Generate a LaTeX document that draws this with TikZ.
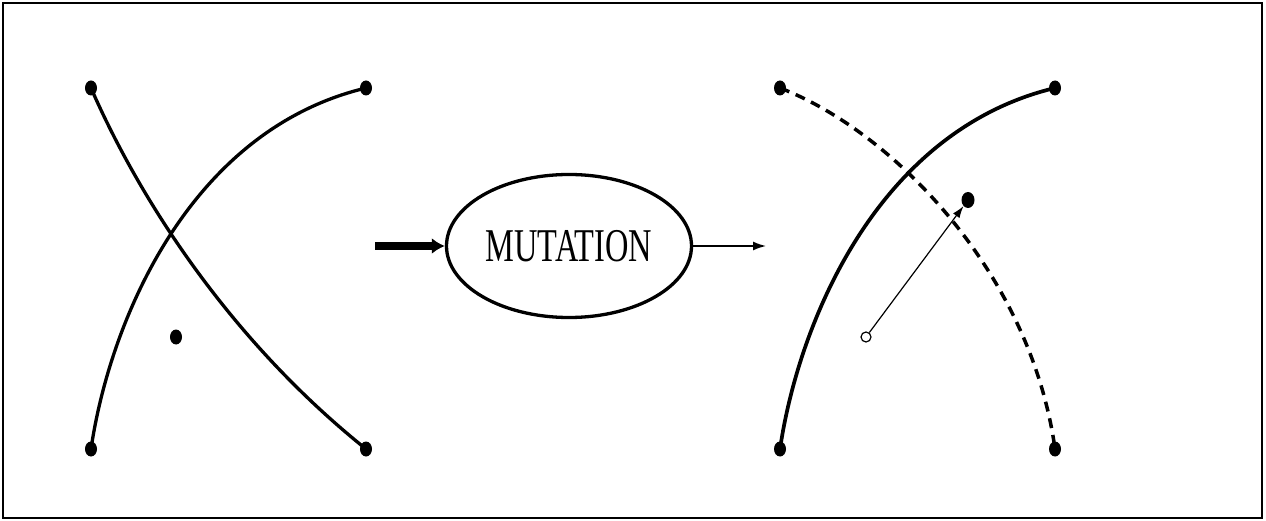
\documentclass[tikz,border=0pt]{standalone}
\usepackage{fontspec}
\setmainfont{Liberation Serif}
\usetikzlibrary{shapes.geometric,arrows.meta}
\tikzset{
  enddot/.style={ellipse,fill=black,inner sep=0pt,minimum width=12pt,minimum height=15pt},
  opendot/.style={circle,draw=black,line width=1.2pt,fill=white,inner sep=0pt,minimum size=10pt},
  curveline/.style={line width=3.3pt},
  dashline/.style={line width=3.5pt,dash pattern=on 10pt off 7pt},
  opbox/.style={ellipse,draw=black,line width=3.3pt,minimum width=245pt,minimum height=143pt,inner sep=0pt},
}
\begin{document}
\begin{tikzpicture}[x=1pt,y=-1pt]
\useasboundingbox (0,0) rectangle (1266,521);
\draw[line width=1.5pt] (3,3) rectangle (1262,518);
% left parents
\node[enddot] (la) at (91,88) {};
\node[enddot] (lb) at (366,88) {};
\node[enddot] (lc) at (91,449) {};
\node[enddot] (ld) at (366,449) {};
\node[enddot] (lp) at (176,337) {};
\draw[curveline] (la.center) .. controls (140,200) and (230,340) .. (ld.center);
\draw[curveline] (lc.center) .. controls (110,320) and (190,130) .. (lb.center);
% mutation operator
\node[opbox] (mut) at (569,246) {\scalebox{0.69}[1]{\fontsize{47}{47}\selectfont MUTATION}};
\coordinate (in) at (375,246);
\coordinate (out) at (766,246);
\draw[line width=8pt,-{Latex[length=13pt,width=16pt]}] (in) -- (mut.west);
\draw[line width=1.5pt,-{Latex[length=13pt,width=9pt]}] (mut.east) -- (out);
% right offspring
\node[enddot] (ra) at (780,88) {};
\node[enddot] (rb) at (1055,88) {};
\node[enddot] (rc) at (780,449) {};
\node[enddot] (rd) at (1055,449) {};
\draw[line width=3.7pt] (rc.center) .. controls (799,320) and (879,130) .. (rb.center);
\draw[dashline] (ra.center) .. controls (890,130) and (1030,270) .. (rd.center);
\node[opendot] (ro) at (866,337) {};
\node[enddot,minimum width=13pt,minimum height=16pt] (rn) at (968,200) {};
\draw[line width=1.2pt,-{Latex[length=12pt,width=8pt]}] (ro) -- (rn);
\end{tikzpicture}
\end{document}
